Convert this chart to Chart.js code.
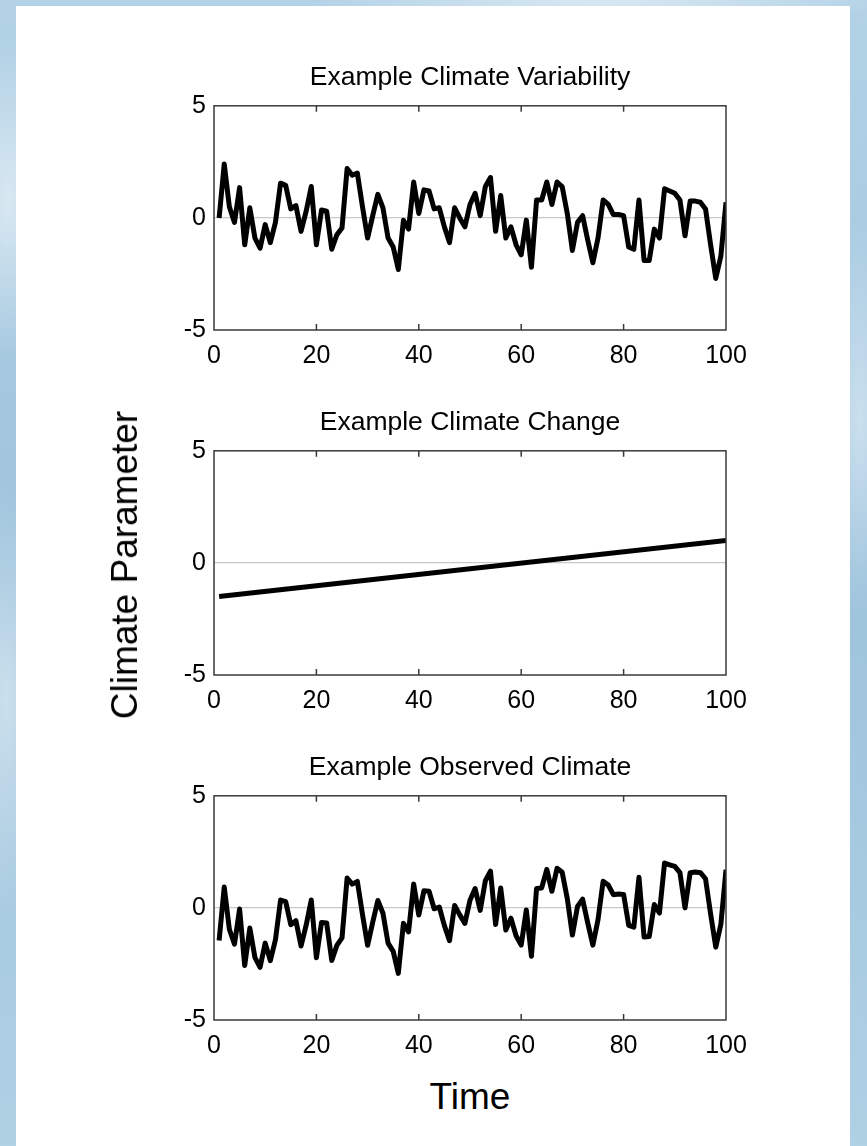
<!DOCTYPE html>
<html>
<head>
<meta charset="utf-8">
<script src="https://cdn.jsdelivr.net/npm/chart.js@4.4.1/dist/chart.umd.min.js"></script>
<style>
  html, body { margin: 0; padding: 0; }
  body {
    width: 867px;
    height: 1146px;
    overflow: hidden;
    position: relative;
    font-family: "Liberation Sans", Arial, sans-serif;
    background-color: #a9cbe0;
    background-image:
      radial-gradient(ellipse 60px 160px at 8px 200px, rgba(255,255,255,0.55), transparent),
      radial-gradient(ellipse 50px 220px at 6px 700px, rgba(255,255,255,0.45), transparent),
      radial-gradient(ellipse 40px 200px at 860px 420px, rgba(230,240,248,0.6), transparent),
      radial-gradient(ellipse 300px 20px at 600px 2px, rgba(255,255,255,0.5), transparent),
      linear-gradient(180deg, #b3d2e6 0%, #9dc3dc 50%, #b0d0e4 100%);
  }
  .panel {
    position: absolute;
    left: 16px;
    top: 6px;
    width: 834px;
    height: 1140px;
    background: #fff;
  }
  canvas.plot { position: absolute; }
  .ylabel {
    position: absolute;
    left: 125px;
    top: 565px;
    transform: translate(-50%, -50%) rotate(-90deg);
    font-size: 37px;
    white-space: nowrap;
    color: #000;
  }
  .xlabel {
    position: absolute;
    left: 470px;
    top: 1097px;
    transform: translate(-50%, -50%);
    font-size: 37px;
    color: #000;
  }
</style>
</head>
<body>
<div class="panel"></div>
<canvas class="plot" id="plotVariability"></canvas>
<canvas class="plot" id="plotChange"></canvas>
<canvas class="plot" id="plotObserved"></canvas>
<div class="ylabel">Climate Parameter</div>
<div class="xlabel">Time</div>

<script>
// Data
const timeSteps = [
  1, 2, 3, 4, 5, 6, 7, 8, 9, 10, 11, 12, 13, 14, 15, 16, 17, 18, 19, 20,
  21, 22, 23, 24, 25, 26, 27, 28, 29, 30, 31, 32, 33, 34, 35, 36, 37, 38, 39, 40,
  41, 42, 43, 44, 45, 46, 47, 48, 49, 50, 51, 52, 53, 54, 55, 56, 57, 58, 59, 60,
  61, 62, 63, 64, 65, 66, 67, 68, 69, 70, 71, 72, 73, 74, 75, 76, 77, 78, 79, 80,
  81, 82, 83, 84, 85, 86, 87, 88, 89, 90, 91, 92, 93, 94, 95, 96, 97, 98, 99, 100
];

const variability = [
  0.0, 2.4, 0.5, -0.2, 1.35, -1.2, 0.45, -0.9, -1.35, -0.3,
  -1.1, -0.2, 1.55, 1.45, 0.4, 0.55, -0.6, 0.3, 1.4, -1.2,
  0.35, 0.3, -1.4, -0.75, -0.45, 2.2, 1.9, 2.0, 0.5, -0.9,
  0.1, 1.05, 0.45, -0.9, -1.3, -2.3, -0.1, -0.5, 1.6, 0.2,
  1.25, 1.2, 0.4, 0.45, -0.4, -1.1, 0.45, 0.0, -0.4, 0.6,
  1.1, 0.1, 1.4, 1.8, -0.6, 1.0, -0.9, -0.4, -1.2, -1.65,
  -0.1, -2.2, 0.8, 0.8, 1.6, 0.6, 1.6, 1.4, 0.2, -1.45,
  -0.2, 0.1, -1.0, -2.0, -0.9, 0.8, 0.6, 0.15, 0.15, 0.1,
  -1.3, -1.4, 0.8, -1.9, -1.9, -0.5, -0.9, 1.3, 1.2, 1.1,
  0.8, -0.8, 0.75, 0.75, 0.7, 0.4, -1.2, -2.7, -1.7, 0.7
];

const trendTime = [1, 100];
const trendValues = [-1.5, 1.0];

const observed = [
  -1.45, 0.93, -0.95, -1.62, -0.05, -2.57, -0.9, -2.22, -2.65, -1.57,
  -2.35, -1.42, 0.35, 0.28, -0.75, -0.57, -1.7, -0.77, 0.35, -2.22,
  -0.65, -0.67, -2.34, -1.67, -1.34, 1.33, 1.06, 1.18, -0.29, -1.67,
  -0.64, 0.33, -0.24, -1.57, -1.94, -2.92, -0.69, -1.07, 1.06, -0.32,
  0.76, 0.74, -0.04, 0.04, -0.79, -1.46, 0.11, -0.31, -0.69, 0.34,
  0.86, -0.11, 1.21, 1.64, -0.74, 0.89, -0.99, -0.46, -1.24, -1.66,
  -0.09, -2.16, 0.87, 0.89, 1.72, 0.74, 1.77, 1.59, 0.42, -1.21,
  0.07, 0.39, -0.68, -1.66, -0.53, 1.19, 1.02, 0.59, 0.62, 0.6,
  -0.78, -0.86, 1.37, -1.3, -1.28, 0.15, -0.23, 2.0, 1.92, 1.85,
  1.57, 0.0, 1.57, 1.6, 1.57, 1.3, -0.28, -1.75, -0.73, 1.7
];

const xTickValues = [0, 20, 40, 60, 80, 100];
const yTickValues = [-5, 0, 5];

const panelTitles = ['Example Climate Variability', 'Example Climate Change', 'Example Observed Climate'];

// Layout (page pixels)
const plotLeft = 214;
const plotRight = 726;
const plotHeight = 224;
const plotTops = [106, 451, 796];
const canvasLeft = 140;
const canvasWidth = 660;   // symmetric around the plot so the title centres on it
const headSpace = 60;
const footSpace = 50;

const FONT = '"Liberation Sans", Arial, sans-serif';

// Box around the axes with inward x ticks on top and bottom
const framePlugin = {
  id: 'frame',
  afterDatasetsDraw(chart) {
    const { ctx, chartArea: a, scales: { x } } = chart;
    ctx.save();
    ctx.strokeStyle = '#3a3a3a';
    ctx.lineWidth = 1.5;
    ctx.strokeRect(a.left, a.top, a.width, a.height);
    ctx.beginPath();
    x.ticks.forEach(t => {
      if (t.value <= x.min || t.value >= x.max) return;
      const px = x.getPixelForValue(t.value);
      ctx.moveTo(px, a.bottom);
      ctx.lineTo(px, a.bottom - 6);
      ctx.moveTo(px, a.top);
      ctx.lineTo(px, a.top + 6);
    });
    ctx.stroke();
    ctx.restore();
  }
};

function makePanel(id, idx, xs, ys) {
  const canvas = document.getElementById(id);
  const h = headSpace + plotHeight + footSpace;
  canvas.width = canvasWidth;
  canvas.height = h;
  canvas.style.left = canvasLeft + 'px';
  canvas.style.top = (plotTops[idx] - headSpace) + 'px';
  canvas.style.width = canvasWidth + 'px';
  canvas.style.height = h + 'px';

  const points = xs.map((x, i) => ({ x: x, y: ys[i] }));

  return new Chart(canvas.getContext('2d'), {
    type: 'line',
    data: {
      datasets: [{
        data: points,
        borderColor: '#000',
        borderWidth: 5,
        borderJoinStyle: 'round',
        borderCapStyle: 'butt',
        tension: 0,
        pointRadius: 0,
        fill: false
      }]
    },
    options: {
      responsive: false,
      animation: false,
      events: [],
      layout: { padding: 0 },
      plugins: {
        legend: { display: false },
        tooltip: { enabled: false },
        title: {
          display: true,
          text: panelTitles[idx],
          color: '#000',
          font: { family: FONT, size: 26.5, weight: 'normal', lineHeight: 1.2 },
          padding: { top: 16, bottom: 12 }
        }
      },
      scales: {
        x: {
          type: 'linear',
          min: 0,
          max: 100,
          afterBuildTicks: s => { s.ticks = xTickValues.map(v => ({ value: v })); },
          afterFit: s => { s.height = footSpace; },
          grid: { display: false, drawTicks: false },
          border: { display: false },
          ticks: {
            color: '#000',
            padding: 11,
            maxRotation: 0,
            font: { family: FONT, size: 25 }
          }
        },
        y: {
          type: 'linear',
          min: -5,
          max: 5,
          afterBuildTicks: s => { s.ticks = yTickValues.map(v => ({ value: v })); },
          afterFit: s => { s.width = plotLeft - canvasLeft; },
          grid: {
            drawTicks: false,
            lineWidth: 1.2,
            color: c => (c.tick && c.tick.value === 0) ? '#c8c8c8' : 'rgba(0,0,0,0)'
          },
          border: { display: false },
          ticks: {
            color: '#000',
            padding: 8,
            font: { family: FONT, size: 25 }
          }
        },
        // empty right-hand axis: only reserves space so the plot sits centred under its title
        yRight: {
          type: 'linear',
          position: 'right',
          min: -5,
          max: 5,
          afterFit: s => { s.width = canvasLeft + canvasWidth - plotRight; },
          grid: { display: false, drawTicks: false },
          border: { display: false },
          ticks: { display: false }
        }
      }
    },
    plugins: [framePlugin]
  });
}

makePanel('plotVariability', 0, timeSteps, variability);
makePanel('plotChange', 1, trendTime, trendValues);
makePanel('plotObserved', 2, timeSteps, observed);
</script>
</body>
</html>
